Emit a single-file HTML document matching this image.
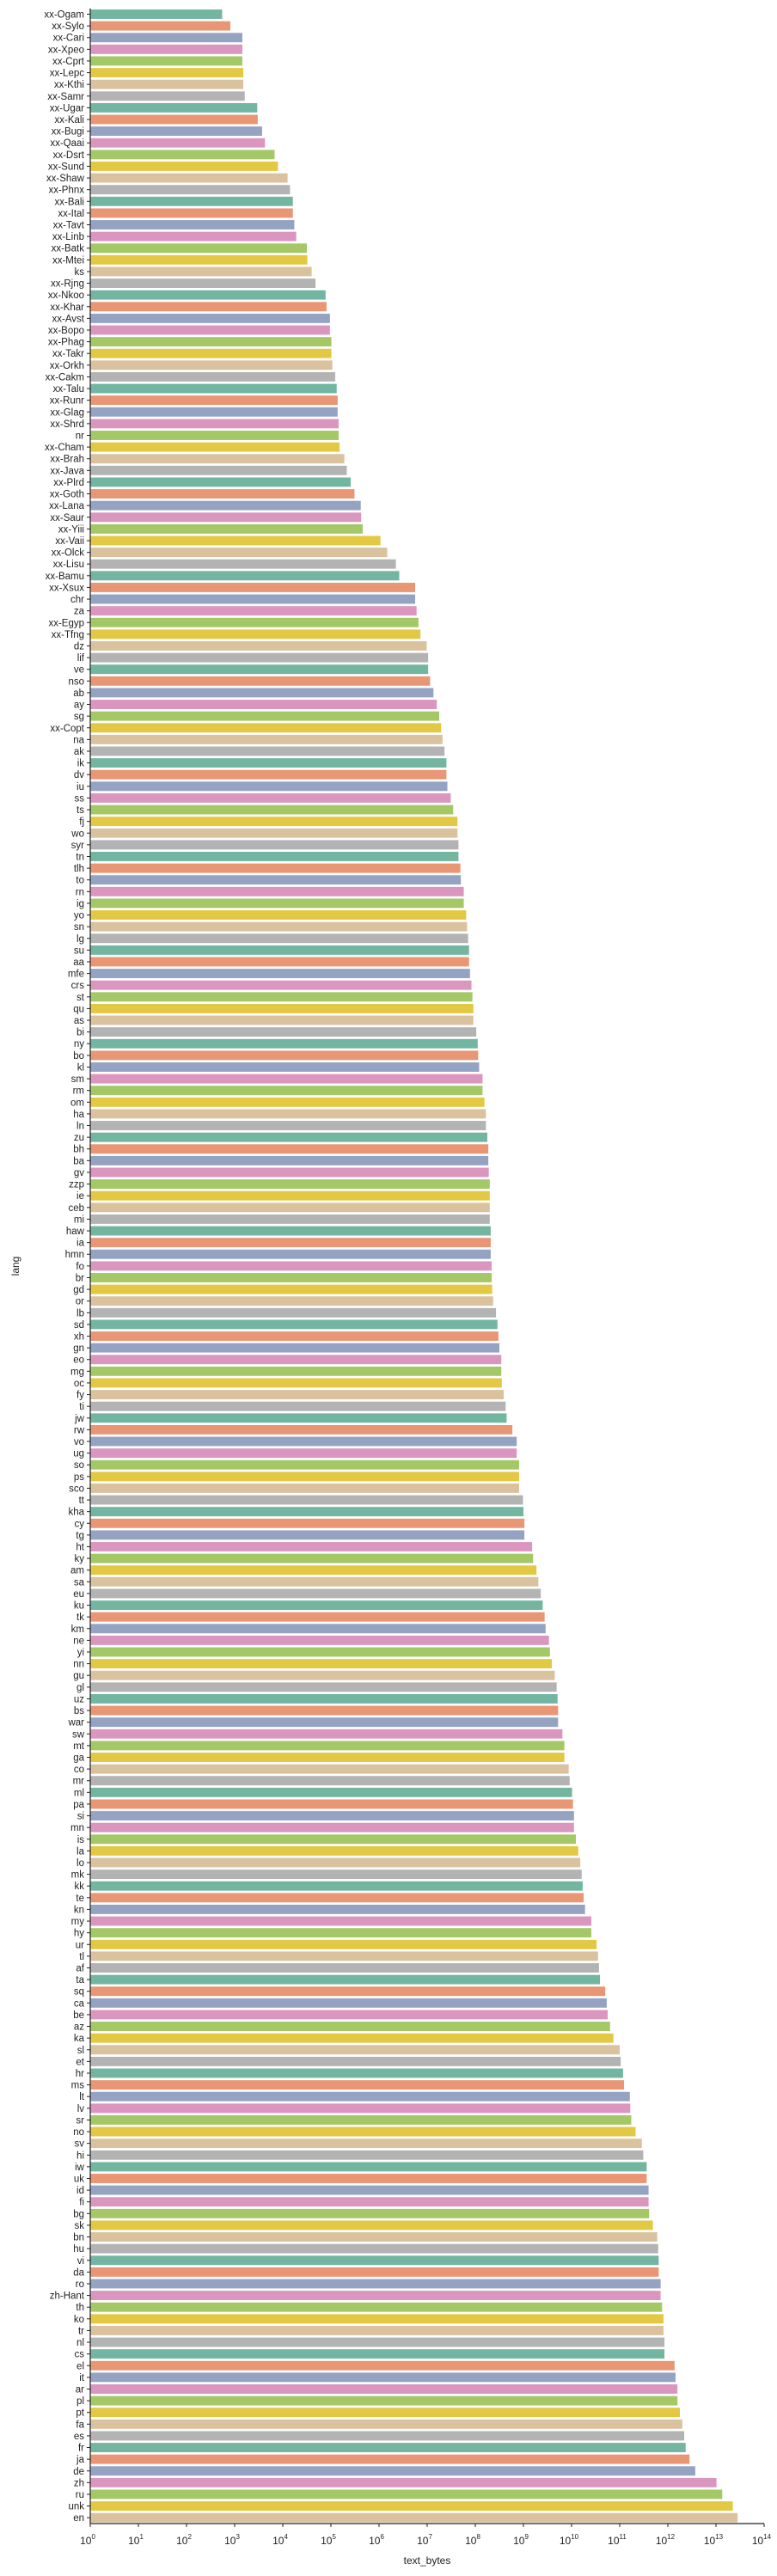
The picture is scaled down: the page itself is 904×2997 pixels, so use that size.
<!DOCTYPE html>
<html><head><meta charset="utf-8">
<style>
html,body{margin:0;padding:0;background:#fff;}
svg{display:block;font-family:"Liberation Sans",sans-serif;}
</style></head>
<body>
<svg id="chart" width="904" height="2997" viewBox="0 0 904 2997" xmlns="http://www.w3.org/2000/svg">
<g id="bars"></g>
<g id="yaxis"></g>
<g id="xaxis"></g>
<text x="497" y="2983" font-size="12" text-anchor="middle" fill="#222">text_bytes</text>
<text x="0" y="0" font-size="12" text-anchor="middle" fill="#222" transform="translate(22,1473) rotate(-90)">lang</text>
</svg>
<script>
const langs = ["xx-Ogam","xx-Sylo","xx-Cari","xx-Xpeo","xx-Cprt","xx-Lepc","xx-Kthi","xx-Samr","xx-Ugar","xx-Kali","xx-Bugi","xx-Qaai","xx-Dsrt","xx-Sund","xx-Shaw","xx-Phnx","xx-Bali","xx-Ital","xx-Tavt","xx-Linb","xx-Batk","xx-Mtei","ks","xx-Rjng","xx-Nkoo","xx-Khar","xx-Avst","xx-Bopo","xx-Phag","xx-Takr","xx-Orkh","xx-Cakm","xx-Talu","xx-Runr","xx-Glag","xx-Shrd","nr","xx-Cham","xx-Brah","xx-Java","xx-Plrd","xx-Goth","xx-Lana","xx-Saur","xx-Yiii","xx-Vaii","xx-Olck","xx-Lisu","xx-Bamu","xx-Xsux","chr","za","xx-Egyp","xx-Tfng","dz","lif","ve","nso","ab","ay","sg","xx-Copt","na","ak","ik","dv","iu","ss","ts","fj","wo","syr","tn","tlh","to","rn","ig","yo","sn","lg","su","aa","mfe","crs","st","qu","as","bi","ny","bo","kl","sm","rm","om","ha","ln","zu","bh","ba","gv","zzp","ie","ceb","mi","haw","ia","hmn","fo","br","gd","or","lb","sd","xh","gn","eo","mg","oc","fy","ti","jw","rw","vo","ug","so","ps","sco","tt","kha","cy","tg","ht","ky","am","sa","eu","ku","tk","km","ne","yi","nn","gu","gl","uz","bs","war","sw","mt","ga","co","mr","ml","pa","si","mn","is","la","lo","mk","kk","te","kn","my","hy","ur","tl","af","ta","sq","ca","be","az","ka","sl","et","hr","ms","lt","lv","sr","no","sv","hi","iw","uk","id","fi","bg","sk","bn","hu","vi","da","ro","zh-Hant","th","ko","tr","nl","cs","el","it","ar","pl","pt","fa","es","fr","ja","de","zh","ru","unk","en"];
// log10(text_bytes) per language
const log10Bytes = [2.74,2.91,3.16,3.16,3.16,3.18,3.18,3.21,3.47,3.48,3.57,3.63,3.83,3.90,4.10,4.15,4.21,4.21,4.24,4.28,4.50,4.51,4.60,4.68,4.89,4.91,4.98,4.98,5.01,5.01,5.03,5.09,5.12,5.14,5.14,5.16,5.16,5.18,5.28,5.33,5.41,5.49,5.62,5.63,5.66,6.03,6.17,6.35,6.42,6.75,6.75,6.78,6.82,6.86,6.99,7.02,7.02,7.06,7.13,7.20,7.25,7.29,7.32,7.36,7.40,7.40,7.42,7.49,7.54,7.63,7.63,7.65,7.65,7.69,7.70,7.76,7.76,7.81,7.83,7.85,7.87,7.87,7.89,7.92,7.94,7.96,7.96,8.02,8.05,8.06,8.08,8.15,8.15,8.19,8.22,8.22,8.25,8.27,8.27,8.28,8.30,8.30,8.30,8.30,8.32,8.32,8.32,8.34,8.34,8.35,8.37,8.43,8.46,8.48,8.50,8.54,8.54,8.55,8.59,8.63,8.65,8.77,8.86,8.86,8.91,8.91,8.91,8.99,9.00,9.02,9.02,9.18,9.20,9.27,9.31,9.36,9.40,9.44,9.46,9.53,9.55,9.59,9.65,9.69,9.71,9.72,9.72,9.81,9.85,9.85,9.94,9.96,10.01,10.03,10.05,10.05,10.09,10.14,10.18,10.21,10.23,10.25,10.28,10.41,10.41,10.52,10.55,10.57,10.59,10.70,10.73,10.75,10.80,10.87,11.00,11.02,11.07,11.09,11.21,11.22,11.24,11.33,11.46,11.49,11.56,11.56,11.60,11.60,11.61,11.69,11.78,11.80,11.81,11.81,11.85,11.85,11.88,11.91,11.91,11.93,11.93,12.14,12.16,12.20,12.20,12.25,12.30,12.34,12.37,12.45,12.57,13.01,13.13,13.35,13.45];
const xTickExps = [0,1,2,3,4,5,6,7,8,9,10,11,12,13,14];
const palette = ["#72b6a1","#e99675","#95a3c3","#db96c0","#a4c866","#e3c843","#dac29f","#b3b3b3"];

const NS="http://www.w3.org/2000/svg";
const X0=105, X1=889, EMIN=0, EMAX=14;
const Y_TOP=9.7, Y_BOT=2936;
const n=langs.length, band=(Y_BOT-Y_TOP)/n;
function xScale(v){ return X0+(Math.log10(v)-EMIN)/(EMAX-EMIN)*(X1-X0); }
function yScale(i){ return Y_TOP+band*(i+0.5); }
function mk(tag,attrs,parent){const e=document.createElementNS(NS,tag);for(const k in attrs)e.setAttribute(k,attrs[k]);parent.appendChild(e);return e;}

const gb=document.getElementById('bars'), gy=document.getElementById('yaxis'), gx=document.getElementById('xaxis');
langs.forEach((l,i)=>{
  const v=Math.pow(10,log10Bytes[i]);
  const h=band*0.8, yc=yScale(i);
  const r=mk('rect',{x:X0,y:(yc-h/2).toFixed(2),width:(xScale(v)-X0).toFixed(2),height:h.toFixed(2),fill:palette[i%8]},gb);
  
  
  const t=mk('line',{x1:X0-4,x2:X0,y1:yc,y2:yc,stroke:'#222','stroke-width':1},gy);
  
  
  const tx=mk('text',{x:X0-7,y:yc+4,'font-size':11.5,'text-anchor':'end',fill:'#222'},gy);
  tx.textContent=l;
  
  
});
const yl=mk('line',{x1:X0,x2:X0,y1:Y_TOP,y2:Y_BOT,stroke:'#222','stroke-width':1.2},gy);


const xl=mk('line',{x1:X0,x2:X1,y1:Y_BOT,y2:Y_BOT,stroke:'#222','stroke-width':1.2},gx);


xTickExps.forEach(e=>{
  const x=xScale(Math.pow(10,e));
  const t=mk('line',{x1:x,x2:x,y1:Y_BOT,y2:Y_BOT+4,stroke:'#222','stroke-width':1},gx);
  
  
  const tx=mk('text',{x:x-3,y:2960,'font-size':12,'text-anchor':'middle',fill:'#222'},gx);
  
  
  tx.appendChild(document.createTextNode('10'));
  const sp=mk('tspan',{dy:-6,'font-size':8},tx);
  sp.textContent=String(e);
});
</script>
</body></html>
